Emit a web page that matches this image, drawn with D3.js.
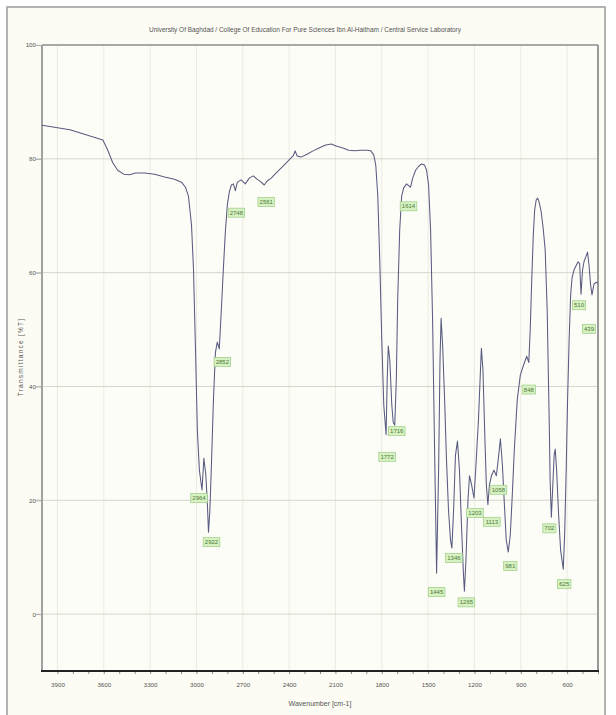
<!DOCTYPE html>
<html>
<head>
<meta charset="utf-8">
<script src="https://cdn.jsdelivr.net/npm/d3@7"></script>
<style>
  html, body { margin: 0; padding: 0; background: #ffffff; }
  svg { display: block; }
</style>
</head>
<body>
<svg id="chart" width="616" height="715"></svg>
<script>
// IR spectrum: [wavenumber (cm-1), transmittance (%T)]
const spectrumPoints = [
  [4000,85.9],[3819,85.1],[3606,83.3],[3574,81.5],[3542,79.3],[3510,78.0],[3471,77.3],[3432,77.2],
  [3394,77.5],[3335,77.5],[3271,77.3],[3206,76.8],[3142,76.4],[3097,75.9],[3071,75.0],[3052,73.5],
  [3032,68.4],[3019,60.5],[3006,46.4],[2994,32.3],[2981,25.3],[2952,27.4],[2939,24.4],[2929,19.2],
  [2913,18.3],[2903,26.2],[2890,37.6],[2877,46.0],[2865,47.8],[2839,53.4],[2826,60.5],[2813,67.1],
  [2800,71.9],[2787,74.2],[2774,75.4],[2761,75.6],[2735,75.9],[2710,76.3],[2684,75.6],[2658,76.6],
  [2632,77.0],[2606,76.4],[2581,75.9],[2542,76.1],[2516,76.6],[2477,77.7],[2439,78.7],[2400,79.8],
  [2374,80.5],[2361,81.4],[2348,80.5],[2323,80.3],[2284,80.8],[2245,81.4],[2206,81.9],[2168,82.4],
  [2129,82.6],[2090,82.2],[2052,81.9],[2013,81.5],[1974,81.4],[1935,81.5],[1897,81.5],[1871,81.4],
  [1852,80.7],[1839,78.9],[1826,73.6],[1813,62.2],[1800,48.2],[1787,36.7],[1765,41.1],[1758,47.1],
  [1748,44.6],[1735,36.7],[1726,33.7],[1706,41.1],[1697,55.2],[1684,67.5],[1671,73.5],[1658,74.9],
  [1639,75.6],[1600,76.6],[1581,78.0],[1561,78.7],[1542,79.1],[1523,78.9],[1510,78.0],[1497,75.4],
  [1484,67.5],[1471,51.7],[1458,28.8],[1432,25.3],[1423,44.6],[1416,52.0],[1406,47.2],[1393,37.6],
  [1381,27.1],[1368,18.3],[1355,13.0],[1335,18.3],[1323,27.9],[1310,30.4],[1297,25.3],[1284,15.6],
  [1271,6.9],[1255,9.5],[1242,20.0],[1232,24.3],[1219,22.8],[1194,24.4],[1174,34.1],[1161,42.9],
  [1155,46.7],[1145,42.9],[1132,30.6],[1123,22.7],[1103,22.7],[1090,24.3],[1074,25.3],[1045,27.4],
  [1032,30.8],[1019,26.2],[1006,19.2],[994,13.0],[968,13.9],[955,20.9],[942,28.8],[923,37.6],
  [903,42.0],[884,43.6],[871,44.6],[861,45.3],[839,49.9],[829,58.7],[819,66.6],[810,71.0],
  [800,72.8],[790,73.1],[781,72.4],[768,70.7],[755,67.8],[742,64.0],[729,53.4],[716,34.1],
  [710,23.6],[694,21.8],[684,27.9],[677,29.0],[668,25.3],[655,17.4],[642,11.2],[616,13.9],
  [606,25.3],[597,37.6],[587,48.2],[577,56.1],[568,59.1],[555,60.5],[542,61.2],[529,61.9],
  [519,61.6],[500,60.5],[490,62.0],[477,62.9],[468,63.6],[458,61.3],[448,57.8],[426,58.0],
  [413,58.3],[400,58.2]
];

// Labelled absorption peaks: [wavenumber, transmittance]
const peakPoints = [
  [2964,21.8],[2922,14.4],[2852,46.6],[2748,74.4],[2561,75.4],[1772,31.5],[1716,33.2],
  [1614,75.0],[1445,7.2],[1346,11.6],[1265,4.0],[1203,20.4],[1113,19.2],[1058,24.3],
  [981,10.9],[848,44.2],[702,17.0],[625,7.9],[510,56.2],[439,56.1]
];

// Label placement relative to each peak (layout only)
const peakLabelNudge = [
  [-3,8],[3,10],[3,13],[1,22],[2,17],[1,22],[2,6],[-2,19],[0,19],[2,10],
  [2,11],[1,15],[4,17],[2,14],[2,14],[0,27],[-2,11],[1,15],[-2,11],[-3,34]
];

const xTickValues = [3900,3600,3300,3000,2700,2400,2100,1800,1500,1200,900,600];
const yTickValues = [0,20,40,60,80,100];
const chartTitle = "University Of Baghdad / College Of Education For Pure Sciences Ibn Al-Haitham / Central Service Laboratory";
const xAxisTitle = "Wavenumber [cm-1]";
const yAxisTitle = "Transmittance [%T]";

const svg = d3.select("#chart");
const font = "'Liberation Sans', Arial, sans-serif";
const plot = { left: 42, right: 598, top: 45, bottom: 671 };

// page frame
svg.append("rect").attr("x", 7).attr("y", 7).attr("width", 598).attr("height", 712)
  .attr("fill", "#fcfcf4").attr("stroke", "#9a9a9a").attr("stroke-width", 1.5);

const x = d3.scaleLinear().domain([4000, 400]).range([plot.left, plot.right]);
const y = d3.scaleLinear().domain([-10, 100]).range([plot.bottom, plot.top]);

// plot background
svg.append("rect").attr("x", plot.left).attr("y", plot.top)
  .attr("width", plot.right - plot.left).attr("height", plot.bottom - plot.top)
  .attr("fill", "#fdfdf7");

// grid
svg.append("g").selectAll("line").data(xTickValues).join("line")
  .attr("x1", d => x(d)).attr("x2", d => x(d))
  .attr("y1", plot.top).attr("y2", plot.bottom)
  .attr("stroke", "#ebebe2").attr("stroke-width", 1);
svg.append("g").selectAll("line").data(yTickValues.filter(v => v < 100)).join("line")
  .attr("x1", plot.left - 6).attr("x2", plot.right)
  .attr("y1", d => y(d)).attr("y2", d => y(d))
  .attr("stroke", "#d6d6ce").attr("stroke-width", 1);

// bottom axis with minor ticks
const xAxis = d3.axisBottom(x).tickValues(d3.range(3900, 399, -100)).tickSize(3)
  .tickFormat(d => xTickValues.includes(d) ? d : "");
const gx = svg.append("g").attr("transform", `translate(0,${plot.bottom})`).call(xAxis);
gx.select(".domain").remove();
gx.selectAll(".tick line").attr("stroke", "#8a8a8a");
gx.selectAll(".tick text").attr("font-family", font).attr("font-size", 6.2)
  .attr("fill", "#555").attr("dy", "1.6em");

// left axis
const yAxis = d3.axisLeft(y).tickValues(yTickValues).tickSize(6).tickFormat(d3.format("d"));
const gy = svg.append("g").attr("transform", `translate(${plot.left},0)`).call(yAxis);
gy.select(".domain").remove();
gy.selectAll(".tick line").attr("stroke", "#aaa");
gy.selectAll(".tick text").attr("font-family", font).attr("font-size", 6.2).attr("fill", "#555")
  .attr("x", -6);

// plot border
const border = svg.append("g");
border.append("line").attr("x1", plot.left).attr("x2", plot.right).attr("y1", plot.top).attr("y2", plot.top)
  .attr("stroke", "#8c8c8c").attr("stroke-width", 1.5);
border.append("line").attr("x1", plot.right).attr("x2", plot.right).attr("y1", plot.top).attr("y2", plot.bottom)
  .attr("stroke", "#9a9a9a").attr("stroke-width", 2);
border.append("line").attr("x1", plot.left).attr("x2", plot.left).attr("y1", plot.top).attr("y2", plot.bottom)
  .attr("stroke", "#a0a0a0").attr("stroke-width", 2);
border.append("line").attr("x1", plot.left - 1).attr("x2", plot.right + 1).attr("y1", plot.bottom).attr("y2", plot.bottom)
  .attr("stroke", "#222").attr("stroke-width", 2);

// spectrum (peak points merged in wavenumber order)
const allPoints = spectrumPoints.concat(peakPoints).sort((a, b) => b[0] - a[0]);
const line = d3.line().x(d => x(d[0])).y(d => y(d[1]));
svg.append("path").datum(allPoints).attr("d", line)
  .attr("fill", "none").attr("stroke", "#595b80").attr("stroke-width", 1.05)
  .attr("stroke-linejoin", "round");

// peak labels
const labels = svg.append("g").selectAll("g").data(peakPoints).join("g")
  .attr("transform", (d, i) => `translate(${x(d[0]) + peakLabelNudge[i][0]},${y(d[1]) + peakLabelNudge[i][1]})`);
labels.append("rect").attr("x", d => -(String(d[0]).length * 3.4 + 3) / 2).attr("y", -4.5)
  .attr("width", d => String(d[0]).length * 3.4 + 3).attr("height", 9)
  .attr("fill", "#d8f1c4").attr("stroke", "#a3d38c").attr("stroke-width", 0.8);
labels.append("text").text(d => d[0])
  .attr("text-anchor", "middle").attr("dy", "0.35em")
  .attr("font-family", font).attr("font-size", 6).attr("fill", "#4c7a33");

// titles
svg.append("text").text(chartTitle).attr("x", 305).attr("y", 32)
  .attr("text-anchor", "middle").attr("font-family", font).attr("font-size", 6.4)
  .attr("fill", "#555").attr("textLength", 312).attr("lengthAdjust", "spacingAndGlyphs");
svg.append("text").text(xAxisTitle).attr("x", 320).attr("y", 706)
  .attr("text-anchor", "middle").attr("font-family", font).attr("font-size", 7).attr("fill", "#555");
svg.append("text").text(yAxisTitle)
  .attr("transform", "translate(23,357) rotate(-90)")
  .attr("text-anchor", "middle").attr("font-family", font).attr("font-size", 6.6).attr("fill", "#555")
  .attr("letter-spacing", 1.2);
</script>
</body>
</html>
